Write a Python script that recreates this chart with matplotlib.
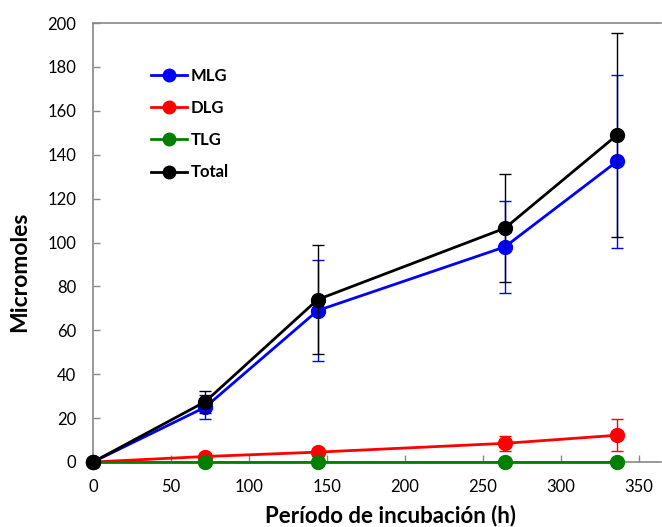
import matplotlib
matplotlib.use("Agg")
import matplotlib.pyplot as plt

plt.rcParams['font.family'] = ['Lato', 'DejaVu Sans']

# Incubation time (h)
hours = [0, 72, 144, 264, 336]

# Mean micromoles and standard deviations per product
mlg = [0, 25, 69, 98, 137]
mlg_err = [0, 5.5, 23, 21, 39.5]
dlg = [0, 2.5, 4.5, 8.5, 12.2]
dlg_err = [0, 0, 0, 3.5, 7.2]
tlg = [0, 0, 0, 0, 0]
tlg_err = [0, 0, 0, 0, 0]
total = [0, 27.5, 74, 106.5, 149]
total_err = [0, 5, 25, 24.5, 46.5]

series = [
    ("MLG", mlg, mlg_err, "#0000FF"),
    ("DLG", dlg, dlg_err, "#FF0000"),
    ("TLG", tlg, tlg_err, "#008000"),
    ("Total", total, total_err, "#000000"),
]

x_ticks = [0, 50, 100, 150, 200, 250, 300, 350]
y_ticks = [0, 20, 40, 60, 80, 100, 120, 140, 160, 180, 200]

fig = plt.figure(figsize=(6.62, 5.27), dpi=100)
ax = fig.add_axes([93 / 662, 65 / 527, (661 - 93) / 662, (462 - 23) / 527])

handles = []
for z, (name, vals, err, col) in enumerate(series):
    cont = ax.errorbar(hours, vals, yerr=err, color=col, ecolor=col,
                       elinewidth=1.0, capsize=4, capthick=1.0, lw=2.0,
                       marker='o', markersize=10, label=name, zorder=3 + z)
    line, caps, bars = cont
    line.set_clip_on(False)
    for c in caps:
        c.set_clip_on(False)
    for b in bars:
        b.set_clip_on(False)
    handles.append(line)

ax.set_xlim(0, (661 - 93) / 1.56)
ax.set_ylim(0, 200)
ax.set_xticks(x_ticks)
ax.set_yticks(y_ticks)
ax.tick_params(direction='in', length=5, width=1, color='#888888', labelsize=12, pad=12)
for side in ['left', 'bottom', 'top']:
    ax.spines[side].set_color('#888888')
    ax.spines[side].set_linewidth(1.2)
ax.spines['right'].set_visible(False)

ax.set_xlabel("Período de incubación (h)", fontsize=16, fontweight='bold')
ax.xaxis.label.set_va('center')
ax.xaxis.set_label_coords(0.523, -0.121)
ax.set_ylabel("Micromoles", fontsize=16.5, fontweight='bold')
ax.yaxis.label.set_va('center')
ax.yaxis.set_label_coords(-0.1285, 0.433)

leg = ax.legend(handles, [s[0] for s in series], loc='upper left', bbox_to_anchor=(0.075, 0.932),
                frameon=False, handlelength=2.2, handletextpad=0.2, labelspacing=0.97,
                prop={'weight': 'bold', 'size': 12})
for h in leg.legend_handles:
    h.set_markersize(9)

fig.savefig("out.png", dpi=100)
